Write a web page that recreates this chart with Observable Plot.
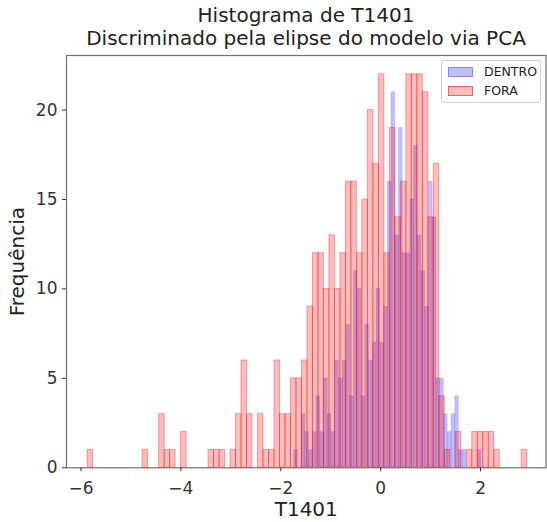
<!DOCTYPE html>
<html>
<head>
<meta charset="utf-8">
<script src="https://cdn.jsdelivr.net/npm/d3@7"></script>
<script src="https://cdn.jsdelivr.net/npm/@observablehq/plot@0.6"></script>
<style>
  body { margin: 0; background: #fff; font-family: "DejaVu Sans", sans-serif; }
  #wrap { position: relative; width: 547px; height: 522px; }
  #title { height: 50px; box-sizing: border-box; padding-top: 4px; margin-left: 66px; width: 480px;
           text-align: center; font-size: 20px; line-height: 23px; color: #222; white-space: nowrap; }
  #legend { position: absolute; left: 441px; top: 60px; width: 100px; height: 43px; box-sizing: border-box;
            border: 1px solid #d0d0d0; border-radius: 3px; background: rgba(255,255,255,0.85);
            font-size: 12.5px; color: #222; }
  .item { position: absolute; left: 6px; height: 12px; }
  .sw { position: absolute; left: 0; top: 0; width: 25px; height: 10px; box-sizing: border-box; }
  .lab { position: absolute; left: 36px; top: -3px; white-space: nowrap; }
</style>
</head>
<body>
<div id="wrap">
  <div id="title"></div>
  <div id="chart"></div>
  <div id="legend"></div>
</div>
<script>
// ---- data ----
const titleLines = ["Histograma de T1401", "Discriminado pela elipse do modelo via PCA"];
const xLabel = "T1401";
const yLabel = "Frequência";
const seriesNames = ["DENTRO", "FORA"];
const seriesColors = ["blue", "red"];

// FORA: 80 bins between these limits
const foraRange = [-5.866, 2.934];
const foraCounts = [1,0,0,0,0,0,0,0,0,0, 1,0,0,3,1,1,0,2,0,0, 0,0,1,1,1,0,1,3,6,3,
                    0,3,1,1,6,3,3,5,5,6, 9,12,12,10,13,10,12,16,16,12, 15,20,17,22,12,19,14,16,22,22,
                    22,21,14,17,4,1,0,2,0,1, 2,2,2,2,1,0,0,0,0,1];
// DENTRO: 50 bins between these limits
const dentroRange = [-1.734, 2.016];
const dentroCounts = [1,0,3,2,1,2,4,2,5,3, 2,6,5,6,8,4,11,10,4,8, 6,7,10,7,9,16,21,13,19,12,
                      12,15,18,13,11,9,16,14,5,5, 3,2,3,4,1,1,0,0,0,1];

const xTicks = [-6, -4, -2, 0, 2];
const yTicks = [0, 5, 10, 15, 20];

// ---- build bins ----
function toBins(counts, range, name) {
  const w = (range[1] - range[0]) / counts.length;
  return counts.map((c, i) => ({series: name, x1: range[0] + i * w, x2: range[0] + (i + 1) * w, count: c}))
               .filter(d => d.count > 0);
}
const dentro = toBins(dentroCounts, dentroRange, seriesNames[0]);
const fora = toBins(foraCounts, foraRange, seriesNames[1]);

document.getElementById("title").innerHTML = titleLines.join("<br>");

const chart = Plot.plot({
  width: 547,
  height: 472,
  marginLeft: 66,
  marginRight: 1.5,
  marginTop: 5,
  marginBottom: 54.7,
  style: {fontFamily: "DejaVu Sans", fontSize: "17px", background: "white", color: "#222"},
  x: {domain: [-6.29, 3.31]},
  y: {domain: [0, 23.05]},
  marks: [
    Plot.rect(dentro, {x1: "x1", x2: "x2", y1: () => 0, y2: "count",
      fill: seriesColors[0], fillOpacity: 0.25, stroke: seriesColors[0], strokeOpacity: 0.1, strokeWidth: 1}),
    Plot.rect(fora, {x1: "x1", x2: "x2", y1: () => 0, y2: "count",
      fill: seriesColors[1], fillOpacity: 0.26, stroke: seriesColors[1], strokeOpacity: 0.35, strokeWidth: 1}),
    Plot.frame({stroke: "#707070", strokeWidth: 1.2}),
    Plot.axisX({ticks: xTicks, tickSize: 4, tickPadding: 10, fontSize: 17, label: null, color: "#333"}),
    Plot.axisY({ticks: yTicks, tickSize: 4, tickPadding: 5, fontSize: 17, label: null, color: "#333"}),
    Plot.text([xLabel], {text: d => d, frameAnchor: "bottom", lineAnchor: "middle", textAnchor: "middle",
      dy: 42, fontSize: 20, fill: "#222"}),
    Plot.text([yLabel], {text: d => d, frameAnchor: "left", lineAnchor: "middle", textAnchor: "middle",
      rotate: -90, dx: -49, fontSize: 20, fill: "#222"})
  ]
});
document.getElementById("chart").appendChild(chart);

// legend
const leg = document.getElementById("legend");
seriesNames.forEach((name, i) => {
  const item = document.createElement("div");
  item.className = "item";
  item.style.top = (6 + i * 19) + "px";
  const sw = document.createElement("div");
  sw.className = "sw";
  const c = d3.color(seriesColors[i]);
  const a = i === 0 ? 0.25 : 0.26;
  sw.style.background = `rgba(${c.r},${c.g},${c.b},${a})`;
  sw.style.border = `1px solid rgba(${c.r},${c.g},${c.b},${i === 0 ? 0.3 : 0.5})`;
  const lab = document.createElement("div");
  lab.className = "lab";
  lab.textContent = name;
  item.appendChild(sw);
  item.appendChild(lab);
  leg.appendChild(item);
});
</script>
</body>
</html>
